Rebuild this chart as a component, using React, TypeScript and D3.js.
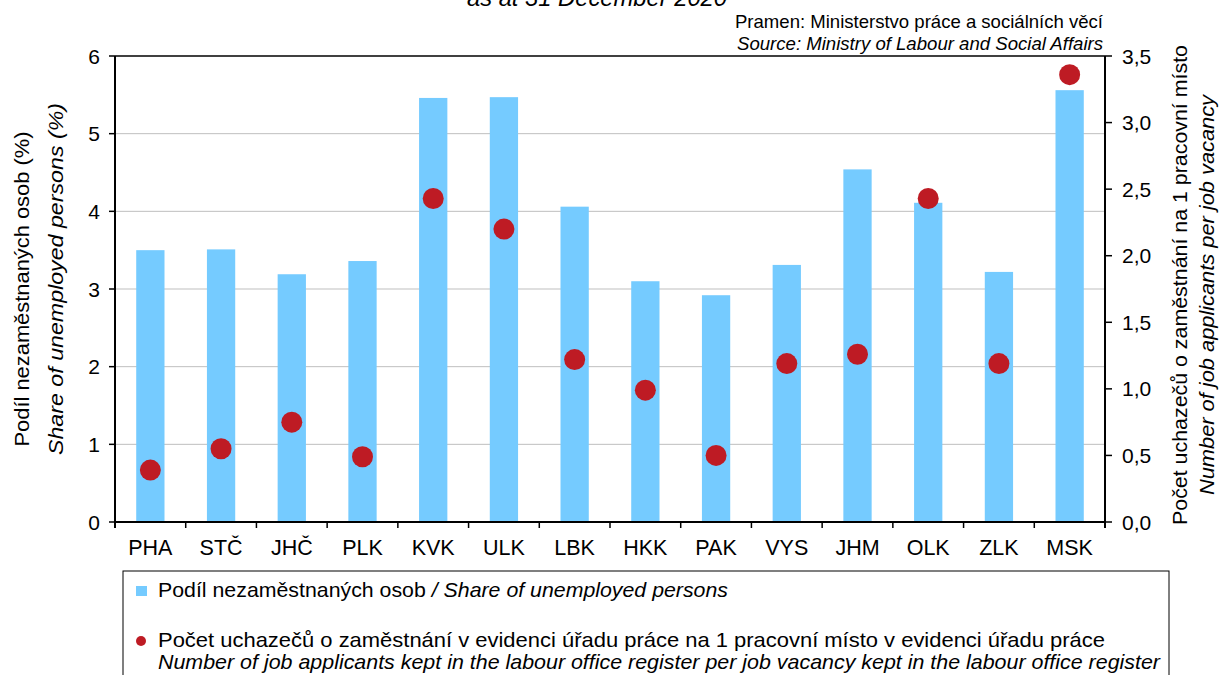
import React from "react";
import * as d3 from "d3";

const categories = ["PHA", "STČ", "JHČ", "PLK", "KVK", "ULK", "LBK", "HKK", "PAK", "VYS", "JHM", "OLK", "ZLK", "MSK"];
const unemployedShare = [3.5, 3.51, 3.19, 3.36, 5.46, 5.47, 4.06, 3.1, 2.92, 3.31, 4.54, 4.11, 3.22, 5.56];
const applicantsPerVacancy = [0.39, 0.55, 0.75, 0.49, 2.43, 2.2, 1.22, 0.99, 0.5, 1.19, 1.26, 2.43, 1.19, 3.36];
const leftTicks = [0, 1, 2, 3, 4, 5, 6];
const rightTicks = [0, 0.5, 1, 1.5, 2, 2.5, 3, 3.5];

const W = 1221;
const H = 675;
const L = 115;
const R = 1105;
const T = 56;
const B = 522;
const FONT = "'Liberation Sans', Arial, sans-serif";
const BAR = "#75CBFF";
const DOT = "#BE1B24";
const FS = 21;

export default function App() {
  const x = d3.scaleBand<string>().domain(categories).range([L, R]).paddingInner(0).paddingOuter(0);
  const yL = d3.scaleLinear().domain([0, 6]).range([B, T]);
  const yR = d3.scaleLinear().domain([0, 3.5]).range([B, T]);
  const bw = x.bandwidth() * 0.4;
  const fmtR = (v: number) => v.toFixed(1).replace(".", ",");
  const boundaries = d3.range(categories.length + 1).map((i) => L + i * x.bandwidth());

  return (
    <svg width={W} height={H} style={{ position: "absolute", left: 0, top: 0, background: "#fff" }} fontFamily={FONT}>
      <rect x={0} y={0} width={W} height={H} fill="#fff" />
      {/* title (clipped at top) */}
      <text x={597} y={6} textAnchor="middle" fontSize={23} fontStyle="italic" fill="#000" textLength={260} lengthAdjust="spacingAndGlyphs">
        as at 31 December 2020
      </text>
      <text x={1103} y={28} textAnchor="end" fontSize={18.5} fill="#000" textLength={368} lengthAdjust="spacingAndGlyphs">
        Pramen: Ministerstvo práce a sociálních věcí
      </text>
      <text x={1103} y={50} textAnchor="end" fontSize={18.5} fontStyle="italic" fill="#000" textLength={366} lengthAdjust="spacingAndGlyphs">
        Source: Ministry of Labour and Social Affairs
      </text>

      {/* gridlines */}
      {leftTicks.filter((t) => t > 0 && t < 6).map((t) => (
        <line key={"g" + t} x1={L} x2={R} y1={yL(t)} y2={yL(t)} stroke="#BFBFBF" strokeWidth={1} />
      ))}

      {/* bars */}
      {categories.map((c, i) => (
        <rect
          key={"b" + c}
          x={(x(c) as number) + (x.bandwidth() - bw) / 2}
          y={yL(unemployedShare[i])}
          width={bw}
          height={B - yL(unemployedShare[i])}
          fill={BAR}
        />
      ))}

      {/* dots */}
      {categories.map((c, i) => (
        <circle
          key={"d" + c}
          cx={(x(c) as number) + x.bandwidth() / 2}
          cy={yR(applicantsPerVacancy[i])}
          r={10.5}
          fill={DOT}
        />
      ))}

      {/* frame top */}
      <line x1={L} x2={R} y1={T} y2={T} stroke="#000" strokeWidth={1.5} />
      {/* left axis */}
      <line x1={L} x2={L} y1={T} y2={B + 6} stroke="#000" strokeWidth={2} />
      {leftTicks.map((t) => (
        <g key={"lt" + t}>
          <line x1={L - 6} x2={L} y1={yL(t)} y2={yL(t)} stroke="#000" strokeWidth={1.5} />
          <text x={L - 15} y={yL(t) + 7.5} textAnchor="end" fontSize={FS} fill="#000">
            {t}
          </text>
        </g>
      ))}
      {/* right axis */}
      <line x1={R} x2={R} y1={T} y2={B + 6} stroke="#000" strokeWidth={2} />
      {rightTicks.map((t) => (
        <g key={"rt" + t}>
          <line x1={R} x2={R + 7} y1={yR(t)} y2={yR(t)} stroke="#000" strokeWidth={1.5} />
          <text x={R + 17} y={yR(t) + 7.5} textAnchor="start" fontSize={FS} fill="#000">
            {fmtR(t)}
          </text>
        </g>
      ))}
      {/* x axis */}
      <line x1={L} x2={R} y1={B} y2={B} stroke="#000" strokeWidth={2} />
      {boundaries.map((bx, i) => (
        <line key={"xt" + i} x1={bx} x2={bx} y1={B} y2={B + 6} stroke="#000" strokeWidth={1.5} />
      ))}
      {categories.map((c) => (
        <text key={"xl" + c} x={(x(c) as number) + x.bandwidth() / 2} y={555} textAnchor="middle" fontSize={21.5} fill="#000">
          {c}
        </text>
      ))}

      {/* left axis title */}
      <g transform={`translate(29, 289) rotate(-90)`}>
        <text x={0} y={0} textAnchor="middle" fontSize={FS} fill="#000" textLength={315} lengthAdjust="spacingAndGlyphs">
          Podíl nezaměstnaných osob (%)
        </text>
      </g>
      <g transform={`translate(63, 279) rotate(-90)`}>
        <text x={0} y={0} textAnchor="middle" fontSize={FS} fontStyle="italic" fill="#000" textLength={352} lengthAdjust="spacingAndGlyphs">
          Share of unemployed persons (%)
        </text>
      </g>
      {/* right axis title */}
      <g transform={`translate(1187, 285) rotate(-90)`}>
        <text x={0} y={0} textAnchor="middle" fontSize={FS} fill="#000" textLength={480} lengthAdjust="spacingAndGlyphs">
          Počet uchazečů o zaměstnání na 1 pracovní místo
        </text>
        <text x={-10} y={27} textAnchor="middle" fontSize={FS} fontStyle="italic" fill="#000" textLength={400} lengthAdjust="spacingAndGlyphs">
          Number of job applicants per job vacancy
        </text>
      </g>

      {/* legend */}
      <rect x={123} y={571} width={1046} height={120} fill="#fff" stroke="#000" strokeWidth={1} />
      <rect x={136} y={586} width={11} height={10} fill={BAR} />
      <text x={158} y={597} fontSize={FS} fill="#000" textLength={570} lengthAdjust="spacingAndGlyphs">
        Podíl nezaměstnaných osob <tspan fontStyle="italic">/ Share of unemployed persons</tspan>
      </text>
      <circle cx={141} cy={641} r={5} fill={DOT} />
      <text x={158} y={647} fontSize={FS} fill="#000" textLength={947} lengthAdjust="spacingAndGlyphs">
        Počet uchazečů o zaměstnání v evidenci úřadu práce na 1 pracovní místo v evidenci úřadu práce
      </text>
      <text x={158} y={669} fontSize={FS} fontStyle="italic" fill="#000" textLength={1002} lengthAdjust="spacingAndGlyphs">
        Number of job applicants kept in the labour office register per job vacancy kept in the labour office register
      </text>
    </svg>
  );
}
